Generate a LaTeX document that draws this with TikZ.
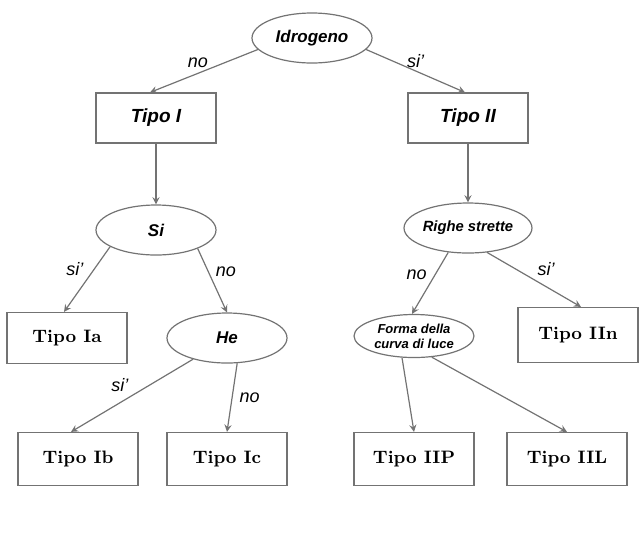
\documentclass[tikz,border=0pt]{standalone}
\usepackage{fontspec}
\setsansfont{Liberation Sans}
\usetikzlibrary{shapes.geometric}
\usetikzlibrary{positioning}

\begin{document}
\begin{tikzpicture}
[on grid,>=stealth,line width=0.6pt,%
  every edge/.append style={draw=black!55},
  test/.style={draw=black!55,ellipse,minimum width=60pt,minimum height=25pt,inner sep=0pt,font=\sffamily\bfseries\itshape\fontsize{8.5}{10}\selectfont},
  kind/.style={draw=black!55,rectangle,minimum width=60pt,minimum height=25pt,font=\sffamily\bfseries\itshape\fontsize{9.5}{11}\selectfont},
  leaf/.style={draw=black!55,rectangle,minimum width=60pt,minimum height=26.5pt,font=\bfseries\small},
  lab/.style={font=\sffamily\itshape\small,inner sep=1.5pt}]
\useasboundingbox (-156pt,19pt) rectangle (164.5pt,-249.5pt);
%% tests and types
\node[test] (idr) {Idrogeno};
\node[kind] (t1) [below left=40pt and 78pt of idr] {Tipo I};
\node[kind] (t2) [below right=40pt and 78pt of idr] {Tipo II};
\node[test] (si) [below=56pt of t1] {Si};
\node[test,font=\sffamily\bfseries\itshape\fontsize{7.4}{9}\selectfont] (rig) [below=55pt of t2] {Righe strette};
\node[leaf,minimum height=25.5pt] (ia) [below left=54pt and 44.5pt of si] {Tipo Ia};
\node[test] (he) [below right=54pt and 35.5pt of si] {He};
\node[test,minimum height=21.5pt,align=center,font=\sffamily\bfseries\itshape\fontsize{6.5}{7.5}\selectfont] (frm) [below left=54pt and 27pt of rig] {Forma della\\curva di luce};
\node[leaf,minimum height=27.5pt] (iin) [below right=53.5pt and 55pt of rig] {Tipo IIn};
\node[leaf] (ib) [below left=60.5pt and 74.5pt of he] {Tipo Ib};
\node[leaf] (ic) [below=60.5pt of he] {Tipo Ic};
\node[leaf] (iip) [below=61.5pt of frm] {Tipo IIP};
\node[leaf] (iil) [below right=61.5pt and 76.5pt of frm] {Tipo IIL};
%% branches
\path[->]
(idr.192) edge node[lab,above,xshift=-3pt] {no} ([xshift=-3pt]t1.north)
(idr.348) edge node[lab,above] {si'} ([xshift=-1.5pt]t2.north)
(t1) edge (si)
(t2) edge (rig)
(si.200) edge node[lab,above left] {si'} ([xshift=-1.5pt]ia.north)
(si.336) edge node[lab,above right] {no} (he.north)
(he.212) edge node[lab,above left] {si'} ([xshift=-3.5pt]ib.north)
(he.292) edge node[lab,right,xshift=2pt] {no} (ic.north)
(rig.231) edge node[lab,above left] {no} ([xshift=-1pt]frm.north)
(rig.308) edge node[lab,above right] {si'} ([xshift=1.5pt]iin.north)
(frm.241) edge (iip.north)
(frm.310) edge (iil.north);
\end{tikzpicture}
\end{document}
